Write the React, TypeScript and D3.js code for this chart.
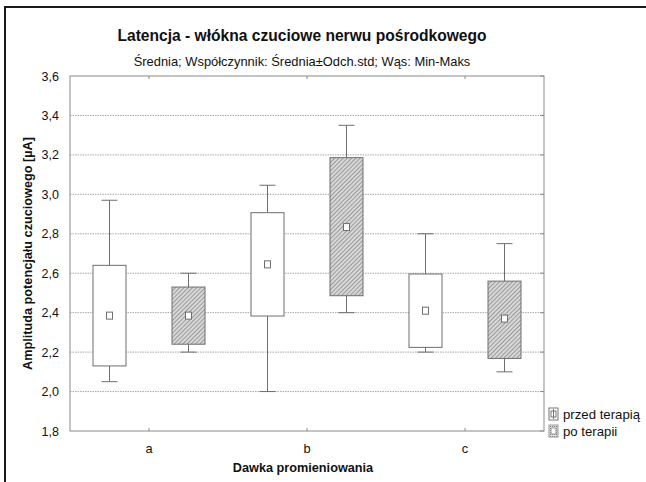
import React from 'react'
import * as d3 from 'd3'

const W = 646
const H = 482
const M = { top: 76, right: 102, bottom: 51, left: 70 }

const categories = ['a', 'b', 'c']
const seriesNames = ['przed terapią', 'po terapii']

// mean, mean±sd, min/max
const beforeMean = [2.385, 2.645, 2.41]
const beforeLow = [2.13, 2.383, 2.224]
const beforeHigh = [2.64, 2.907, 2.596]
const beforeMin = [2.05, 2.0, 2.2]
const beforeMax = [2.97, 3.046, 2.8]

const afterMean = [2.385, 2.834, 2.37]
const afterLow = [2.24, 2.486, 2.168]
const afterHigh = [2.53, 3.186, 2.56]
const afterMin = [2.2, 2.4, 2.1]
const afterMax = [2.6, 3.35, 2.75]

const yTicks = [1.8, 2.0, 2.2, 2.4, 2.6, 2.8, 3.0, 3.2, 3.4, 3.6]

const FONT = '"Liberation Sans", Arial, sans-serif'

export default function App() {
  const x = d3.scaleBand().domain(categories).range([M.left, W - M.right])
  const sub = d3.scaleBand().domain(seriesNames).range([0, x.bandwidth()])
  const y = d3.scaleLinear().domain([1.8, 3.6]).range([H - M.bottom, M.top])
  const fmt = (v: number) => d3.format('.1f')(v).replace('.', ',')

  const series = [
    { name: seriesNames[0], mean: beforeMean, low: beforeLow, high: beforeHigh, min: beforeMin, max: beforeMax, fill: '#fff' },
    { name: seriesNames[1], mean: afterMean, low: afterLow, high: afterHigh, min: afterMin, max: afterMax, fill: 'url(#hatch)' },
  ]
  const boxW = 33
  const capW = 16
  const x0 = M.left
  const x1 = W - M.right
  const yTop = M.top
  const yBot = H - M.bottom

  return (
    <svg width={W} height={H} style={{ position: 'absolute', left: 0, top: 0, background: '#fff' }} fontFamily={FONT}>
      <defs>
        <pattern id="hatch" width={3} height={3} patternUnits="userSpaceOnUse" patternTransform="rotate(45)">
          <rect width={3} height={3} fill="#d8d8d8" />
          <line x1={0} y1={0} x2={0} y2={3} stroke="#707070" strokeWidth={1.2} />
        </pattern>
        <pattern id="dots" width={2} height={2} patternUnits="userSpaceOnUse">
          <rect width={2} height={2} fill="#e4e4e4" />
          <rect width={1} height={1} fill="#777" />
        </pattern>
      </defs>

      {/* outer frame */}
      <rect x={5} y={7} width={W + 10} height={H + 10} fill="none" stroke="#1a1a1a" strokeWidth={2} />

      <text x={302} y={41} textAnchor="middle" fontSize={15.6} fontWeight="bold" fill="#111">
        Latencja - włókna czuciowe nerwu pośrodkowego
      </text>
      <text x={302} y={66} textAnchor="middle" fontSize={12.9} fill="#111">
        Średnia; Współczynnik: Średnia±Odch.std; Wąs: Min-Maks
      </text>

      {/* grid */}
      {yTicks.slice(1, -1).map(t => (
        <line key={'g' + t} x1={x0} x2={x1} y1={y(t)} y2={y(t)} stroke="#a8a8a8" strokeDasharray="1.5,1" strokeWidth={1} />
      ))}

      {/* plot frame */}
      <rect x={x0} y={yTop} width={x1 - x0} height={yBot - yTop} fill="none" stroke="#8a8a8a" strokeWidth={1} />

      {/* y ticks + labels */}
      {yTicks.map(t => (
        <g key={'y' + t}>
          <line x1={x1 - 4} x2={x1} y1={y(t)} y2={y(t)} stroke="#8a8a8a" />
          <text x={59} y={y(t) + 4.5} textAnchor="end" fontSize={12.5} fill="#111">{fmt(t)}</text>
        </g>
      ))}

      {/* x ticks + labels */}
      {categories.map(c => {
        const cx = (x(c) as number) + x.bandwidth() / 2
        return (
          <g key={'x' + c}>
            <line x1={cx} x2={cx} y1={yBot} y2={yBot - 3} stroke="#8a8a8a" />
            <line x1={cx} x2={cx} y1={yTop} y2={yTop + 3} stroke="#8a8a8a" />
            <text x={cx} y={453} textAnchor="middle" fontSize={12.8} fill="#111">{c}</text>
          </g>
        )
      })}

      {/* boxes */}
      {series.map(s =>
        categories.map((c, i) => {
          const cx = (x(c) as number) + (sub(s.name) as number) + sub.bandwidth() / 2
          return (
            <g key={s.name + c} stroke="#6e6e6e" strokeWidth={1}>
              <line x1={cx} x2={cx} y1={y(s.max[i])} y2={y(s.high[i])} />
              <line x1={cx} x2={cx} y1={y(s.low[i])} y2={y(s.min[i])} />
              <line x1={cx - capW / 2} x2={cx + capW / 2} y1={y(s.max[i])} y2={y(s.max[i])} />
              <line x1={cx - capW / 2} x2={cx + capW / 2} y1={y(s.min[i])} y2={y(s.min[i])} />
              <rect x={cx - boxW / 2} y={y(s.high[i])} width={boxW} height={y(s.low[i]) - y(s.high[i])} fill={s.fill} />
              <rect x={cx - 3} y={y(s.mean[i]) - 3.5} width={6} height={7} fill="#fff" />
            </g>
          )
        })
      )}

      {/* axis titles */}
      <text transform={`translate(32,${(yTop + yBot) / 2}) rotate(-90)`} textAnchor="middle" fontSize={12.7} fontWeight="bold" fill="#111">
        Amplituda potencjału czuciowego [µA]
      </text>
      <text x={303} y={472} textAnchor="middle" fontSize={12.7} fontWeight="bold" fill="#111">
        Dawka promieniowania
      </text>

      {/* legend */}
      <g>
        <rect x={549} y={408} width={9} height={12} fill="#fff" stroke="#777" />
        <line x1={553.5} x2={553.5} y1={409} y2={419} stroke="#777" />
        <rect x={551} y={411} width={5} height={6} fill="none" stroke="#777" />
        <text x={563} y={418.5} fontSize={13.2} fill="#111">{seriesNames[0]}</text>
        <rect x={549} y={425} width={9} height={12} fill="url(#dots)" stroke="#999" />
        <rect x={551} y={428} width={5} height={6} fill="#fff" stroke="#999" />
        <text x={563} y={435.5} fontSize={13.2} fill="#111">{seriesNames[1]}</text>
      </g>
    </svg>
  )
}
